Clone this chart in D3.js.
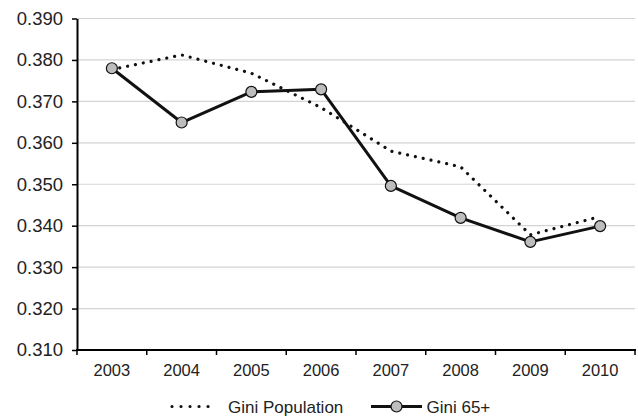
<!DOCTYPE html>
<html>
<head>
<meta charset="utf-8">
<script src="https://cdn.jsdelivr.net/npm/d3@7"></script>
<style>
  html, body { margin: 0; padding: 0; background: #fff; }
  svg { display: block; font-family: "Liberation Sans", Arial, Helvetica, sans-serif; }
</style>
</head>
<body>
<svg id="chart" width="638" height="417"></svg>
<script>
const years = ["2003", "2004", "2005", "2006", "2007", "2008", "2009", "2010"];
const giniPopulation = [0.3777, 0.3812, 0.3768, 0.3685, 0.3580, 0.3542, 0.3378, 0.3422];
const gini65 = [0.3780, 0.3649, 0.3723, 0.3729, 0.3496, 0.3419, 0.3361, 0.3399];
const yTicks = [0.310, 0.320, 0.330, 0.340, 0.350, 0.360, 0.370, 0.380, 0.390];
const seriesNames = ["Gini Population", "Gini 65+"];

(function () {
const svg = d3.select("#chart");
const mLeft = 77, mRight = 635, mTop = 18.5, mBottom = 350;

const x = d3.scaleBand().domain(years).range([mLeft, mRight]).paddingInner(0).paddingOuter(0);
const y = d3.scaleLinear().domain([0.31, 0.39]).range([mBottom, mTop]);

// gridlines
svg.append("g")
  .selectAll("line")
  .data(yTicks)
  .join("line")
  .attr("x1", mLeft).attr("x2", mRight)
  .attr("y1", d => y(d)).attr("y2", d => y(d))
  .attr("stroke", "#d4d4d4").attr("stroke-width", 1.2);

// y axis
const yAxis = svg.append("g")
  .attr("transform", `translate(${mLeft},0)`)
  .call(d3.axisLeft(y).tickValues(yTicks).tickFormat(d3.format(".3f")).tickSizeInner(5).tickSizeOuter(0).tickPadding(9));
yAxis.select(".domain").attr("stroke", "#000").attr("stroke-width", 2);
yAxis.selectAll(".tick line").attr("stroke", "#000").attr("stroke-width", 1.5);
yAxis.selectAll(".tick text").attr("font-size", "18.5px").attr("fill", "#222").attr("font-family", "Liberation Sans, Arial, sans-serif");

// x axis
const xTickPositions = years.map(d => x(d)).concat([mRight]);
const xAxis = svg.append("g")
  .attr("transform", `translate(0,${mBottom})`);
xAxis.append("line")
  .attr("x1", mLeft - 1).attr("x2", mRight + 1)
  .attr("stroke", "#000").attr("stroke-width", 2);
xAxis.selectAll("line.tk")
  .data(xTickPositions)
  .join("line").attr("class", "tk")
  .attr("x1", d => d).attr("x2", d => d)
  .attr("y1", 0).attr("y2", 5)
  .attr("stroke", "#000").attr("stroke-width", 1.5);
xAxis.selectAll("text")
  .data(years)
  .join("text")
  .attr("x", d => x(d) + x.bandwidth() / 2)
  .attr("y", 25.5)
  .attr("text-anchor", "middle")
  .attr("font-size", "16.5px")
  .attr("fill", "#222")
  .text(d => d);

const cx = d => x(d) + x.bandwidth() / 2;

// dotted population line
const line = d3.line().x((d, i) => cx(years[i])).y(d => y(d));
svg.append("path")
  .datum(giniPopulation)
  .attr("d", line)
  .attr("fill", "none")
  .attr("stroke", "#111")
  .attr("stroke-width", 3.2)
  .attr("stroke-linecap", "round")
  .attr("stroke-dasharray", "0.01 8");

// solid 65+ line
svg.append("path")
  .datum(gini65)
  .attr("d", line)
  .attr("fill", "none")
  .attr("stroke", "#111")
  .attr("stroke-width", 3)
  .attr("stroke-linejoin", "round");

svg.append("g")
  .selectAll("circle")
  .data(gini65)
  .join("circle")
  .attr("cx", (d, i) => cx(years[i]))
  .attr("cy", d => y(d))
  .attr("r", 5.5)
  .attr("fill", "#bdbdbd")
  .attr("stroke", "#111")
  .attr("stroke-width", 1.2);

// legend
const ly = 406.5;
const lg = svg.append("g");
lg.append("line")
  .attr("x1", 172).attr("x2", 217).attr("y1", ly).attr("y2", ly)
  .attr("stroke", "#111").attr("stroke-width", 3.2)
  .attr("stroke-linecap", "round").attr("stroke-dasharray", "0.01 9");
lg.append("text")
  .attr("x", 228).attr("y", ly + 6)
  .attr("font-size", "17px").attr("fill", "#222")
  .text(seriesNames[0]);
lg.append("line")
  .attr("x1", 371).attr("x2", 422).attr("y1", ly).attr("y2", ly)
  .attr("stroke", "#111").attr("stroke-width", 3);
lg.append("circle")
  .attr("cx", 396.5).attr("cy", ly).attr("r", 5.5)
  .attr("fill", "#bdbdbd").attr("stroke", "#111").attr("stroke-width", 1.2);
lg.append("text")
  .attr("x", 426.5).attr("y", ly + 6)
  .attr("font-size", "17px").attr("fill", "#222")
  .text(seriesNames[1]);
})();
</script>
</body>
</html>
